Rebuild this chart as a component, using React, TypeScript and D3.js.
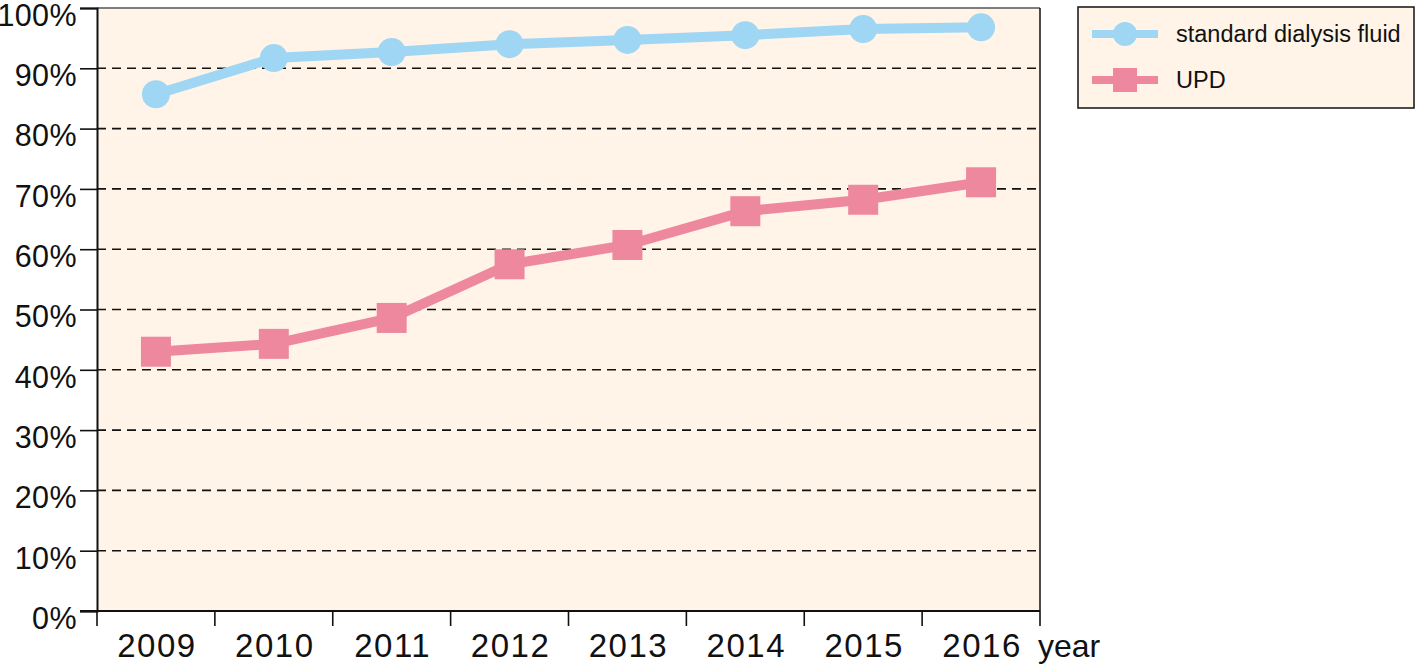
import React, { useEffect, useRef } from 'react';
import * as d3 from 'd3';

const years = ['2009', '2010', '2011', '2012', '2013', '2014', '2015', '2016'];
const standardFluid = [85.7, 91.7, 92.7, 94.0, 94.7, 95.5, 96.5, 96.8];
const upd = [43.0, 44.3, 48.6, 57.5, 60.7, 66.3, 68.2, 71.1];
const yTicks = [0, 10, 20, 30, 40, 50, 60, 70, 80, 90, 100];
const legendLabels = ['standard dialysis fluid', 'UPD'];

const BLUE = '#9fd6f3';
const PINK = '#ee889e';
const BG = '#fff4e7';
const FONT = 'Liberation Sans, Arial, sans-serif';

export default function App() {
  const svgRef = useRef<SVGSVGElement>(null);
  const W = 1418;
  const H = 665;
  const margin = { top: 8, right: 378, bottom: 54, left: 97 };

  useEffect(() => {
    const svg = d3.select(svgRef.current);
    svg.selectAll('*').remove();
    const width = W - margin.left - margin.right;
    const height = H - margin.top - margin.bottom;

    const chart = svg.append('g').attr('transform', `translate(${margin.left},${margin.top})`);

    const x = d3.scaleBand().domain(years).range([0, width]);
    const y = d3.scaleLinear().domain([0, 100]).range([height, 0]);

    chart.append('rect').attr('width', width).attr('height', height).attr('fill', BG);

    // dashed grid
    chart.selectAll('.grid')
      .data(yTicks.filter(d => d > 0 && d < 100))
      .join('line')
      .attr('x1', 0).attr('x2', width)
      .attr('y1', d => y(d)).attr('y2', d => y(d))
      .attr('stroke', '#111').attr('stroke-width', 1.6)
      .attr('stroke-dasharray', '9,6');

    // frame
    chart.append('line').attr('x1', 0).attr('x2', width).attr('y1', 0).attr('y2', 0)
      .attr('stroke', '#555').attr('stroke-width', 1.5);
    chart.append('line').attr('x1', width).attr('x2', width).attr('y1', 0).attr('y2', height)
      .attr('stroke', '#111').attr('stroke-width', 1.5);

    // y axis
    const yAxis = d3.axisLeft(y).tickValues(yTicks).tickSize(17).tickPadding(3)
      .tickFormat(d => `${d}%`);
    const yg = chart.append('g').call(yAxis);
    yg.select('.domain').attr('stroke', '#111').attr('stroke-width', 2);
    yg.selectAll('.tick line').attr('stroke', '#111').attr('stroke-width', 1.6);
    yg.selectAll('.tick text').attr('font-family', FONT).attr('font-size', 30.5).attr('fill', '#111')
      .attr('letter-spacing', 0.4)
      .attr('dy', '0.57em');

    // x axis
    const xg = chart.append('g').attr('transform', `translate(0,${height})`);
    xg.append('line').attr('x1', -17).attr('x2', width).attr('stroke', '#111').attr('stroke-width', 2);
    const bounds = [...years.map(d => x(d) as number), width];
    xg.selectAll('.xt').data(bounds).join('line')
      .attr('x1', d => d).attr('x2', d => d).attr('y1', 0).attr('y2', 15)
      .attr('stroke', '#111').attr('stroke-width', 1.6);
    xg.selectAll('.xl').data(years).join('text')
      .attr('x', d => (x(d) as number) + x.bandwidth() / 2 + 1)
      .attr('y', 46)
      .attr('text-anchor', 'middle')
      .attr('letter-spacing', 1.5)
      .attr('font-family', FONT).attr('font-size', 33).attr('fill', '#111')
      .text(d => d);
    xg.append('text').attr('x', width - 2).attr('y', 46)
      .attr('font-family', FONT).attr('font-size', 32).attr('fill', '#111').text('year');

    const cx = (d: string) => (x(d) as number) + x.bandwidth() / 2;
    const lineGen = d3.line<number>().x((_, i) => cx(years[i])).y(d => y(d));

    chart.append('path').datum(upd).attr('d', lineGen)
      .attr('fill', 'none').attr('stroke', PINK).attr('stroke-width', 10);
    chart.selectAll('.sq').data(upd).join('rect')
      .attr('x', (_, i) => cx(years[i]) - 15).attr('y', d => y(d) - 15)
      .attr('width', 30).attr('height', 30).attr('fill', PINK);

    chart.append('path').datum(standardFluid).attr('d', lineGen)
      .attr('fill', 'none').attr('stroke', BLUE).attr('stroke-width', 10);
    chart.selectAll('.ci').data(standardFluid).join('circle')
      .attr('cx', (_, i) => cx(years[i])).attr('cy', d => y(d))
      .attr('r', 14).attr('fill', BLUE);

    // legend
    const lg = svg.append('g').attr('transform', 'translate(1078,7)');
    lg.append('rect').attr('width', 336).attr('height', 101)
      .attr('fill', BG).attr('stroke', '#111').attr('stroke-width', 1.5);
    legendLabels.forEach((label, i) => {
      const ly = 27 + i * 46;
      const color = i === 0 ? BLUE : PINK;
      lg.append('line').attr('x1', 14).attr('x2', 80).attr('y1', ly).attr('y2', ly)
        .attr('stroke', color).attr('stroke-width', 8);
      if (i === 0) {
        lg.append('circle').attr('cx', 47).attr('cy', ly).attr('r', 12).attr('fill', color);
      } else {
        lg.append('rect').attr('x', 35).attr('y', ly - 12).attr('width', 24).attr('height', 24).attr('fill', color);
      }
      lg.append('text').attr('x', 98).attr('y', ly).attr('dy', '0.36em')
        .attr('font-family', FONT).attr('font-size', 23.5).attr('fill', '#111').text(label);
    });
  }, []);

  return <svg ref={svgRef} width={W} height={H} style={{ position: 'absolute', left: 0, top: 0 }} />;
}
